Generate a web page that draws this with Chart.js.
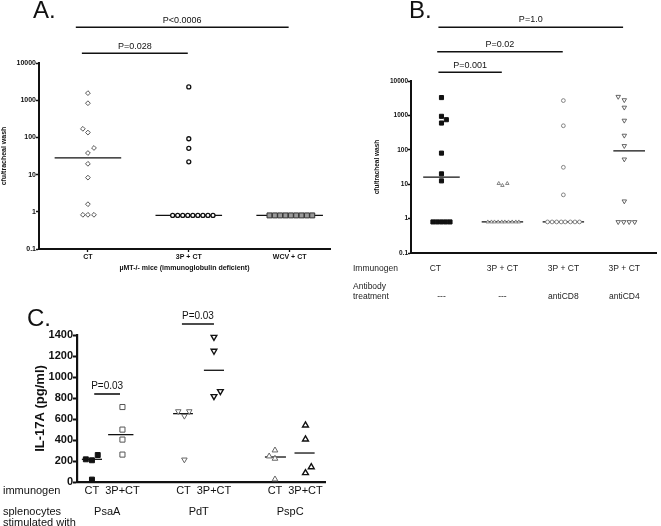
<!DOCTYPE html>
<html>
<head>
<meta charset="utf-8">
<script src="https://cdn.jsdelivr.net/npm/chart.js@4"></script>
<style>
  body { margin: 0; background: #fff; }
  canvas { position: absolute; left: 0; top: 0; }
</style>
</head>
<body>
<canvas id="chartA" width="661" height="526"></canvas>
<canvas id="chartB" width="661" height="526"></canvas>
<canvas id="chartC" width="661" height="526"></canvas>
<script>
const FONT = "'Liberation Sans', Arial, sans-serif";

// ---- panel A: µMT-/- mice ----
const catsA = ['CT', '3P + CT', 'WCV + CT'];
const ctA = [1550, 830, 170, 135, 52, 38, 19.5, 8.3, 1.6, 0.83, 0.83, 0.83];
const ctAJit = [0, 0, -0.05, 0, 0.06, 0, 0, 0, 0, -0.05, 0, 0.06];
const p3A = [2280, 92, 51, 22, 0.8, 0.8, 0.8, 0.8, 0.8, 0.8, 0.8, 0.8, 0.8];
const p3AJit = [0, 0, 0, 0, -0.16, -0.11, -0.06, -0.01, 0.04, 0.09, 0.14, 0.19, 0.24];
const wcvA = [0.8, 0.8, 0.8, 0.8, 0.8, 0.8, 0.8, 0.8, 0.8];
const wcvAJit = [-0.2, -0.147, -0.094, -0.041, 0.012, 0.065, 0.118, 0.171, 0.224];
const medA = [28, 0.8, 0.8];
const logTicks = [0.1, 1, 10, 100, 1000, 10000];

// ---- panel B: antibody depletion ----
const catsB = ['CT', '3P + CT', '3P + CT', '3P + CT'];
const abB = ['---', '---', 'antiCD8', 'antiCD4'];
const ctB = [3300, 940, 750, 600, 80, 20, 12.5, 0.8, 0.8, 0.8, 0.8, 0.8];
const ctBJit = [0, 0, 0.08, 0, 0, 0, 0, -0.14, -0.07, 0, 0.07, 0.14];
const p3B = [10.5, 9.2, 10.5, 0.8, 0.8, 0.8, 0.8, 0.8, 0.8, 0.8, 0.8, 0.8, 0.8];
const p3BJit = [-0.06, 0, 0.08, -0.24, -0.18, -0.13, -0.07, -0.01, 0.04, 0.1, 0.16, 0.22, 0.27];
const cd8B = [2700, 500, 31, 4.9, 0.8, 0.8, 0.8, 0.8, 0.8, 0.8, 0.8, 0.8];
const cd8BJit = [0, 0, 0, 0, -0.26, -0.185, -0.11, -0.035, 0.03, 0.115, 0.19, 0.265];
const cd4B = [3500, 2800, 1700, 710, 260, 130, 53, 3.2, 0.8, 0.8, 0.8, 0.8];
const cd4BJit = [-0.1, 0, 0, 0, 0, 0, 0, 0, -0.1, -0.01, 0.08, 0.17];
const medB = [16, 0.8, 0.8, 93];
const medBSpan = [[-0.3, 0.3], [-0.34, 0.34], [-0.34, 0.34], [-0.18, 0.34]];

// ---- panel C: IL-17A ----
const groupsC = ['PsaA', 'PdT', 'PspC'];
const immC = ['CT', '3P+CT'];
const posC = [0, 1, 3, 4, 6, 7];
const psaCT = [216, 207, 257, 23];
const psaCTJit = [-0.2, 0, 0.19, 0];
const psa3P = [714, 499, 404, 261];
const psa3PJit = [0, 0, 0, 0];
const pdtCT = [673, 629, 673, 213];
const pdtCTJit = [-0.17, 0.03, 0.19, 0.03];
const pdt3P = [1381, 1248, 816, 864];
const pdt3PJit = [0, 0, 0, 0.21];
const pspCT = [245, 302, 223, 26];
const pspCTJit = [-0.19, 0, 0, 0];
const psp3P = [540, 407, 143, 86];
const psp3PJit = [0, 0, 0.19, 0];
const medC = [216, 451, 651, 1064, 238, 276];
const ticksC = [0, 200, 400, 600, 800, 1000, 1200, 1400];

function pts(center, vals, jit) {
  return vals.map((v, i) => ({ x: center + (jit[i] || 0), y: v }));
}

function dots(center, vals, jit, style) {
  return Object.assign({ data: pts(center, vals, jit), clip: false, pointBorderWidth: 1 }, style);
}

function median(center, val, span) {
  return {
    data: [{ x: center + span[0], y: val }, { x: center + span[1], y: val }],
    showLine: true, borderColor: '#111', borderWidth: 1.3, pointRadius: 0, clip: false
  };
}

function zeroPad(s) {
  s.paddingTop = 0; s.paddingBottom = 0; s.paddingLeft = 0; s.paddingRight = 0;
}

// brackets, letters and text rows below the axes
const annot = {
  id: 'annot',
  afterDraw(chart, args, o) {
    const ctx = chart.ctx;
    const x = chart.scales.x;
    ctx.save();
    ctx.fillStyle = '#111';
    ctx.strokeStyle = '#111';
    (o.brackets || []).forEach(b => {
      const a = x.getPixelForValue(b.x0), c = x.getPixelForValue(b.x1);
      ctx.lineWidth = 1.6;
      ctx.beginPath(); ctx.moveTo(a, b.y); ctx.lineTo(c, b.y); ctx.stroke();
      ctx.font = b.font;
      ctx.textAlign = 'center';
      ctx.textBaseline = 'middle';
      ctx.fillText(b.label, (a + c) / 2, b.ty);
    });
    (o.texts || []).forEach(t => {
      ctx.font = t.font;
      ctx.textAlign = t.align || 'center';
      ctx.textBaseline = 'middle';
      ctx.fillStyle = t.color || '#111';
      const px = t.v !== undefined ? x.getPixelForValue(t.v) : t.px;
      ctx.fillText(t.s, px, t.py);
    });
    ctx.restore();
  }
};

function logAxis(width, titleSize, tickSize) {
  return {
    type: 'logarithmic', min: 0.1, max: 10000,
    afterBuildTicks: s => { s.ticks = logTicks.map(v => ({ value: v })); },
    afterFit: s => { s.width = width; zeroPad(s); },
    ticks: {
      callback: v => (v < 1 ? '0.1' : String(v)),
      font: { family: FONT, size: tickSize, weight: 'bold' }, color: '#111', padding: 0
    },
    grid: { drawOnChartArea: false, tickLength: 3, color: '#111', tickWidth: 1.3 },
    border: { color: '#111', width: 2 },
    title: {
      display: true, text: 'cfu/tracheal wash', color: '#111', padding: 0,
      font: { family: FONT, size: titleSize, weight: 'bold' }
    }
  };
}

// ---------- A ----------
new Chart(document.getElementById('chartA'), {
  type: 'scatter',
  data: {
    datasets: [
      dots(0, ctA, ctAJit, { pointStyle: 'rectRot', pointRadius: 2.4, pointBackgroundColor: '#fff', pointBorderColor: '#555' }),
      dots(1, p3A, p3AJit, { pointStyle: 'circle', pointRadius: 2, pointBackgroundColor: '#fff', pointBorderColor: '#111', pointBorderWidth: 1.3 }),
      dots(2, wcvA, wcvAJit, { pointStyle: 'rect', pointRadius: 3.5, pointBackgroundColor: '#999', pointBorderColor: '#333' }),
      ...medA.map((m, i) => median(i, m, [-0.33, 0.33]))
    ]
  },
  options: {
    responsive: false, animation: false, events: [],
    layout: { padding: { left: 0, top: 63, right: 331, bottom: 254 } },
    plugins: {
      legend: { display: false }, tooltip: { enabled: false },
      annot: {
        brackets: [
          { label: 'P<0.0006', x0: -0.12, x1: 1.99, y: 27.3, ty: 21, font: `9px ${FONT}` },
          { label: 'P=0.028', x0: -0.06, x1: 0.99, y: 53.3, ty: 47, font: `9px ${FONT}` }
        ],
        texts: [
          { s: 'A.', px: 33, py: 11, align: 'left', font: `24px ${FONT}` }
        ]
      }
    },
    scales: {
      x: {
        type: 'linear', min: -0.485, max: 2.4,
        afterBuildTicks: s => { s.ticks = catsA.map((c, i) => ({ value: i })); },
        afterFit: s => { s.height = 23; zeroPad(s); },
        ticks: {
          callback: v => catsA[v], autoSkip: false, maxRotation: 0, padding: 1,
          font: { family: FONT, size: 7, weight: 'bold' }, color: '#111'
        },
        grid: { drawOnChartArea: false, tickLength: 3, color: '#111', tickWidth: 1.3 },
        border: { color: '#111', width: 2 },
        title: {
          display: true, text: 'µMT-/- mice (immunoglobulin deficient)', color: '#111', padding: 0,
          font: { family: FONT, size: 7, weight: 'bold' }
        }
      },
      y: logAxis(39, 7, 7)
    }
  },
  plugins: [annot]
});

// ---------- B ----------
const rowFontB = `8.5px ${FONT}`;
new Chart(document.getElementById('chartB'), {
  type: 'scatter',
  data: {
    datasets: [
      dots(0, ctB, ctBJit, { pointStyle: 'rect', pointRadius: 2.9, pointBackgroundColor: '#111', pointBorderColor: '#111' }),
      dots(1, p3B, p3BJit, { pointStyle: 'triangle', pointRadius: 2, pointBackgroundColor: '#fff', pointBorderColor: '#777', pointBorderWidth: 0.9 }),
      dots(2, cd8B, cd8BJit, { pointStyle: 'circle', pointRadius: 1.9, pointBackgroundColor: '#fff', pointBorderColor: '#777', pointBorderWidth: 0.9 }),
      dots(3, cd4B, cd4BJit, { pointStyle: 'triangle', rotation: 180, pointRadius: 2.6, pointBackgroundColor: '#fff', pointBorderColor: '#555', pointBorderWidth: 0.9 }),
      ...medB.map((m, i) => median(i, m, medBSpan[i]))
    ]
  },
  options: {
    responsive: false, animation: false, events: [],
    layout: { padding: { left: 373, top: 81, right: 0, bottom: 271 } },
    plugins: {
      legend: { display: false }, tooltip: { enabled: false },
      annot: {
        brackets: [
          { label: 'P=1.0', x0: -0.05, x1: 2.98, y: 27.3, ty: 20, font: `9px ${FONT}` },
          { label: 'P=0.02', x0: -0.07, x1: 1.99, y: 51.7, ty: 45, font: `9px ${FONT}` },
          { label: 'P=0.001', x0: -0.05, x1: 0.99, y: 72.3, ty: 66, font: `9px ${FONT}` }
        ],
        texts: [
          { s: 'B.', px: 409, py: 11, align: 'left', font: `24px ${FONT}` },
          { s: 'Immunogen', px: 353, py: 269, align: 'left', font: rowFontB, color: '#222' },
          { s: 'Antibody', px: 353, py: 287, align: 'left', font: rowFontB, color: '#222' },
          { s: 'treatment', px: 353, py: 297, align: 'left', font: rowFontB, color: '#222' },
          ...catsB.map((c, i) => ({ s: c, v: i - (i === 0 ? 0.1 : 0), py: 269, font: rowFontB, color: '#222' })),
          ...abB.map((c, i) => ({ s: c, v: i, py: 297, font: rowFontB, color: '#222' }))
        ]
      }
    },
    scales: {
      x: {
        type: 'linear', min: -0.5, max: 3.52,
        afterFit: s => { s.height = 2; zeroPad(s); },
        ticks: { display: false },
        grid: { display: false },
        border: { color: '#111', width: 2 }
      },
      y: logAxis(38, 6.5, 6.5)
    }
  },
  plugins: [annot]
});

// ---------- C ----------
const rowFontC = `11px ${FONT}`;
const groupStyles = [
  { pointStyle: 'rect', pointRadius: 3.5, pointBackgroundColor: '#111', pointBorderColor: '#111' },
  { pointStyle: 'rect', pointRadius: 3.6, pointBackgroundColor: '#fff', pointBorderColor: '#555' },
  { pointStyle: 'triangle', rotation: 180, pointRadius: 3.2, pointBackgroundColor: '#fff', pointBorderColor: '#666' },
  { pointStyle: 'triangle', rotation: 180, pointRadius: 3.3, pointBackgroundColor: '#fff', pointBorderColor: '#111', pointBorderWidth: 1.4 },
  { pointStyle: 'triangle', pointRadius: 3.3, pointBackgroundColor: '#fff', pointBorderColor: '#666' },
  { pointStyle: 'triangle', pointRadius: 3.4, pointBackgroundColor: '#fff', pointBorderColor: '#111', pointBorderWidth: 1.4 }
];
const valsC = [psaCT, psa3P, pdtCT, pdt3P, pspCT, psp3P];
const jitC = [psaCTJit, psa3PJit, pdtCTJit, pdt3PJit, pspCTJit, psp3PJit];
const medSpanC = [[-0.33, 0.33], [-0.47, 0.36], [-0.34, 0.31], [-0.33, 0.33], [-0.33, 0.36], [-0.36, 0.3]];

new Chart(document.getElementById('chartC'), {
  type: 'scatter',
  data: {
    datasets: [
      ...valsC.map((v, i) => dots(posC[i], v, jitC[i], groupStyles[i])),
      ...medC.map((m, i) => median(posC[i], m, medSpanC[i]))
    ]
  },
  options: {
    responsive: false, animation: false, events: [],
    layout: { padding: { left: 33, top: 335, right: 336, bottom: 42 } },
    plugins: {
      legend: { display: false }, tooltip: { enabled: false },
      annot: {
        brackets: [
          { label: 'P=0.03', x0: 0.075, x1: 0.92, y: 394, ty: 386, font: `10px ${FONT}` },
          { label: 'P=0.03', x0: 2.95, x1: 4.0, y: 324, ty: 316, font: `10px ${FONT}` }
        ],
        texts: [
          { s: 'C.', px: 27, py: 319, align: 'left', font: `24px ${FONT}` },
          { s: 'immunogen', px: 3, py: 491, align: 'left', font: rowFontC },
          { s: 'splenocytes', px: 3, py: 512, align: 'left', font: rowFontC },
          { s: 'stimulated with', px: 3, py: 523, align: 'left', font: rowFontC },
          ...posC.map((p, i) => ({ s: immC[i % 2], v: p, py: 491, font: rowFontC })),
          ...groupsC.map((g, i) => ({ s: g, v: i * 3 + 0.5, py: 512, font: rowFontC }))
        ]
      }
    },
    scales: {
      x: {
        type: 'linear', min: -0.49, max: 7.64,
        afterFit: s => { s.height = 2; zeroPad(s); },
        ticks: { display: false },
        grid: { display: false },
        border: { color: '#111', width: 2.2 }
      },
      y: {
        type: 'linear', min: 0, max: 1400,
        afterBuildTicks: s => { s.ticks = ticksC.map(v => ({ value: v })); },
        afterFit: s => { s.width = 44; zeroPad(s); },
        ticks: {
          callback: v => String(v),
          font: { family: FONT, size: 11, weight: 'bold' }, color: '#111', padding: 0
        },
        grid: { drawOnChartArea: false, tickLength: 4, color: '#111', tickWidth: 2 },
        border: { color: '#111', width: 2.2 },
        title: {
          display: true, text: 'IL-17A (pg/ml)', color: '#111', padding: 0,
          font: { family: FONT, size: 13, weight: 'bold' }
        }
      }
    }
  },
  plugins: [annot]
});
</script>
</body>
</html>
